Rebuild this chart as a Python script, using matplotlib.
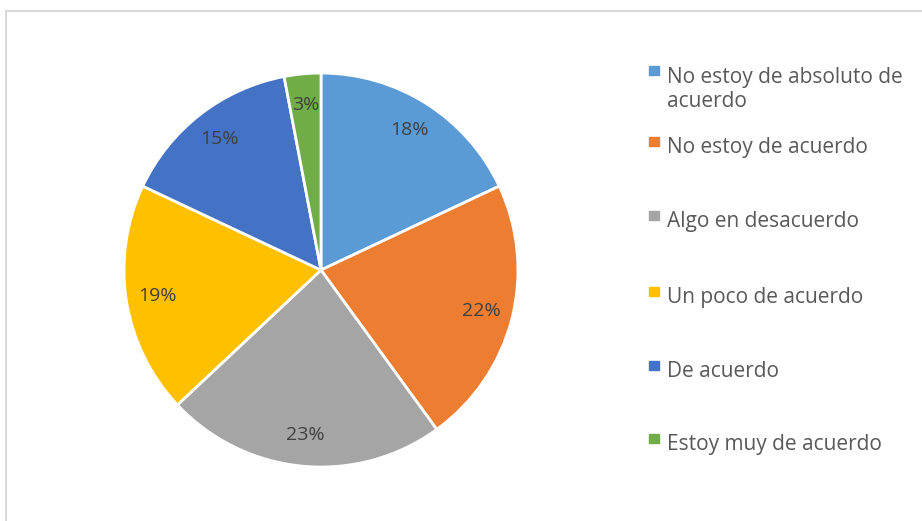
import matplotlib.pyplot as plt
from matplotlib.patches import Rectangle

plt.rcParams['font.family'] = ['Open Sans', 'DejaVu Sans']

# Survey responses (percent)
labels = ['No estoy de absoluto de\nacuerdo', 'No estoy de acuerdo', 'Algo en desacuerdo',
          'Un poco de acuerdo', 'De acuerdo', 'Estoy muy de acuerdo']
values = [18, 22, 23, 19, 15, 3]
colors = ['#5B9BD5', '#ED7D31', '#A5A5A5', '#FFC000', '#4472C4', '#70AD47']

fig = plt.figure(figsize=(9.22, 5.21), dpi=100)
ax = fig.add_axes([0.1345, 0.1036, 0.4273, 0.7562])

wedges, texts, autotexts = ax.pie(values, colors=colors, startangle=90, counterclock=False,
                                  autopct='%d%%', pctdistance=0.84,
                                  wedgeprops=dict(edgecolor='white', linewidth=2),
                                  textprops=dict(color='#404040', fontsize=14))
ax.set_aspect('equal')
ax.set_xlim(-1, 1)
ax.set_ylim(-1, 1)

# legend on the right, one square per category
ys = [72, 143, 217, 293, 367, 440]
line_h = 25
for lab, col, y in zip(labels, colors, ys):
    extra = line_h * lab.count('\n')
    fig.patches.append(Rectangle((649 / 922, 1 - (y + 3) / 521), 9.5 / 922, 9.5 / 521,
                                 transform=fig.transFigure, color=col))
    fig.text(667 / 922, 1 - (y + 10 + extra) / 521, lab, ha='left', va='baseline',
             fontsize=15, color='#595959', linespacing=1.2)

# chart border
fig.patches.append(Rectangle((6 / 922, 0 - 0.05), 1.1, 1 - 11 / 521 + 0.05,
                             transform=fig.transFigure, fill=False,
                             edgecolor='#D9D9D9', linewidth=1.5))

fig.savefig('out.png', dpi=100)
